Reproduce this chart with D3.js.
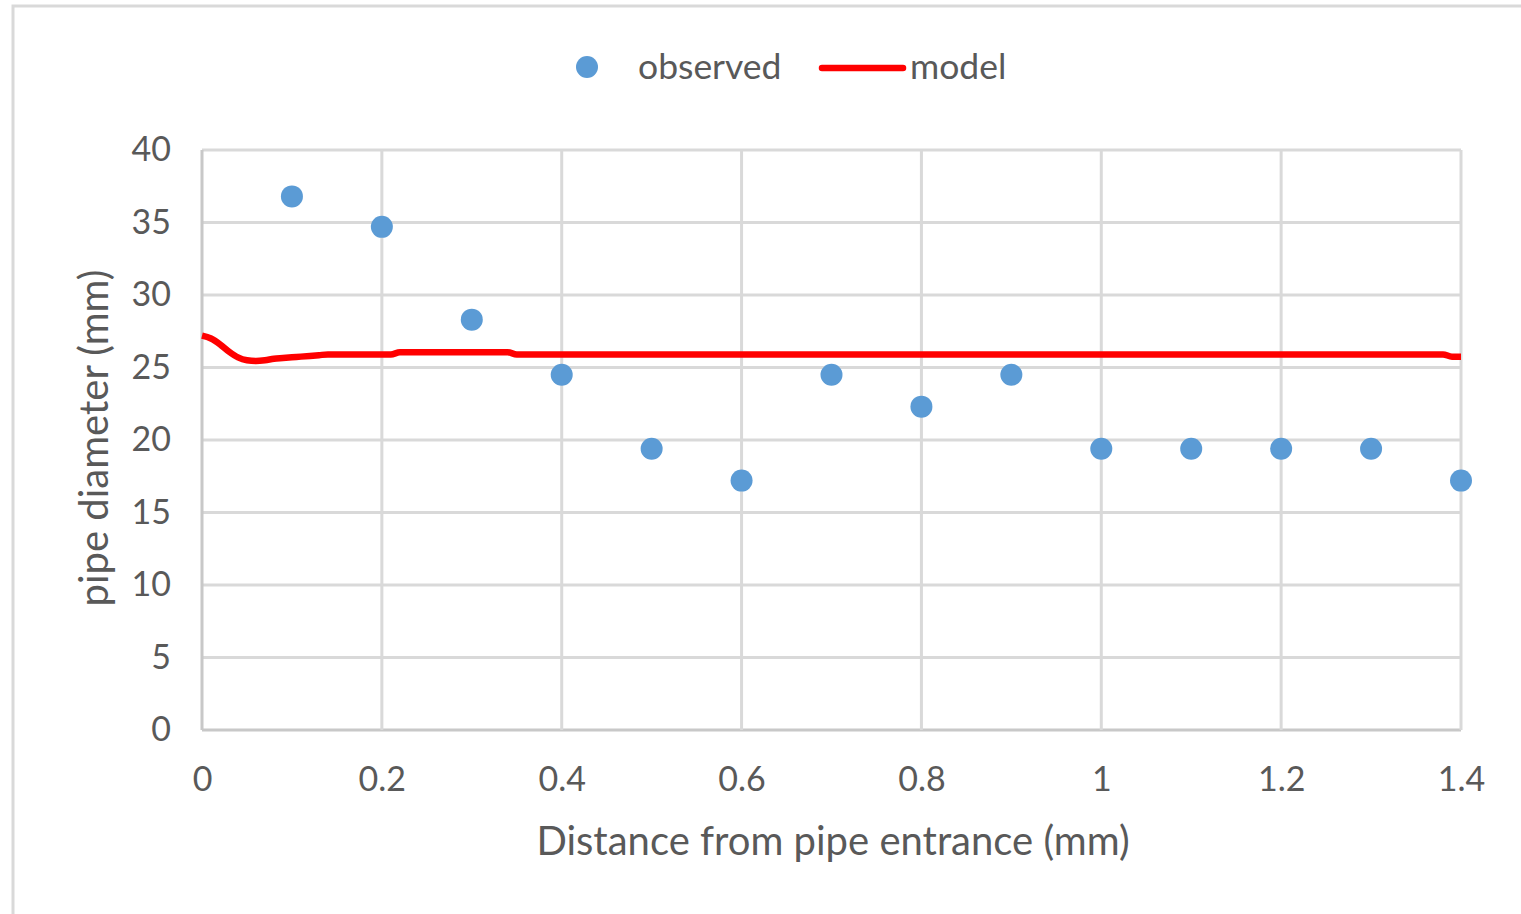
<!DOCTYPE html>
<html>
<head>
<meta charset="utf-8">
<script src="https://cdn.jsdelivr.net/npm/d3@7"></script>
<style>
  html, body { margin: 0; padding: 0; background: #fff; }
  svg { display: block; }
  text { font-family: Lato, "Open Sans", sans-serif; fill: #595959; }
</style>
</head>
<body>
<svg id="chart" width="1521" height="914"></svg>
<script>
// Observed pipe diameters at sampled distances
const observedX = [0.1, 0.2, 0.3, 0.4, 0.5, 0.6, 0.7, 0.8, 0.9, 1.0, 1.1, 1.2, 1.3, 1.4];
const observedY = [36.8, 34.7, 28.3, 24.5, 19.4, 17.2, 24.5, 22.3, 24.5, 19.4, 19.4, 19.4, 19.4, 17.2];

// Model curve
const modelX = [0, 0.01, 0.02, 0.03, 0.04, 0.05, 0.06, 0.07, 0.08, 0.09, 0.10, 0.11, 0.12, 0.13, 0.14, 0.21, 0.22, 0.34, 0.35, 1.38, 1.39, 1.40];
const modelY = [27.2, 27.0, 26.6, 26.1, 25.7, 25.5, 25.45, 25.5, 25.6, 25.65, 25.7, 25.75, 25.8, 25.85, 25.9, 25.9, 26.05, 26.05, 25.9, 25.9, 25.75, 25.75];

const xTicks = [0, 0.2, 0.4, 0.6, 0.8, 1, 1.2, 1.4];
const yTicks = [0, 5, 10, 15, 20, 25, 30, 35, 40];

const seriesNames = ["observed", "model"];
const xTitle = "Distance from pipe entrance (mm)";
const yTitle = "pipe diameter (mm)";

const svg = d3.select("#chart");

// chart frame
svg.append("rect")
  .attr("x", 13).attr("y", 6)
  .attr("width", 1600).attr("height", 1000)
  .attr("fill", "#fff")
  .attr("stroke", "#d9d9d9").attr("stroke-width", 3);

const plot = { left: 202, right: 1461, top: 150, bottom: 730 };

const x = d3.scaleLinear().domain([0, 1.4]).range([plot.left, plot.right]);
const y = d3.scaleLinear().domain([0, 40]).range([plot.bottom, plot.top]);

// gridlines
const grid = svg.append("g");
grid.selectAll("line.h").data(yTicks).join("line")
  .attr("x1", plot.left).attr("x2", plot.right)
  .attr("y1", d => y(d)).attr("y2", d => y(d))
  .attr("stroke", d => d === 0 ? "#c8c8c8" : "#d9d9d9").attr("stroke-width", 3);
grid.selectAll("line.v").data(xTicks).join("line")
  .attr("y1", plot.top).attr("y2", plot.bottom)
  .attr("x1", d => x(d)).attr("x2", d => x(d))
  .attr("stroke", d => d === 0 ? "#c8c8c8" : "#d9d9d9").attr("stroke-width", 3);

// tick labels via d3 axes (domain and tick marks hidden, grid drawn separately)
const xAxis = svg.append("g")
  .attr("transform", `translate(0,${plot.bottom})`)
  .call(d3.axisBottom(x).tickValues(xTicks).tickFormat(d3.format("~g")).tickSize(0).tickPadding(37));
xAxis.select(".domain").remove();
xAxis.selectAll("text").attr("font-size", 34).attr("font-family", "Lato, sans-serif").attr("fill", "#595959");

const yAxis = svg.append("g")
  .attr("transform", `translate(${plot.left},0)`)
  .call(d3.axisLeft(y).tickValues(yTicks).tickSize(0).tickPadding(31));
yAxis.select(".domain").remove();
yAxis.selectAll("text").attr("font-size", 34).attr("font-family", "Lato, sans-serif").attr("fill", "#595959");

// model line
const modelData = modelX.map((d, i) => [d, modelY[i]]);
svg.append("path")
  .datum(modelData)
  .attr("fill", "none")
  .attr("stroke", "#ff0000")
  .attr("stroke-width", 6.5)
  .attr("stroke-linejoin", "round")
  .attr("d", d3.line().x(d => x(d[0])).y(d => y(d[1])).curve(d3.curveMonotoneX));

// observed points
svg.append("g").selectAll("circle")
  .data(observedX.map((d, i) => [d, observedY[i]]))
  .join("circle")
  .attr("cx", d => x(d[0])).attr("cy", d => y(d[1]))
  .attr("r", 11)
  .attr("fill", "#5b9bd5");

// axis titles
svg.append("text")
  .attr("x", 833).attr("y", 855)
  .attr("text-anchor", "middle").attr("font-size", 40)
  .text(xTitle);
svg.append("text")
  .attr("transform", "translate(108,438) rotate(-90)")
  .attr("text-anchor", "middle").attr("font-size", 40)
  .text(yTitle);

// legend
const legend = svg.append("g");
legend.append("circle").attr("cx", 587).attr("cy", 67).attr("r", 11).attr("fill", "#5b9bd5");
legend.append("text").attr("x", 638).attr("y", 79).attr("font-size", 35.5).text(seriesNames[0]);
legend.append("line").attr("x1", 822).attr("x2", 903).attr("y1", 68).attr("y2", 68)
  .attr("stroke", "#ff0000").attr("stroke-width", 6.5).attr("stroke-linecap", "round");
legend.append("text").attr("x", 910).attr("y", 79).attr("font-size", 35.5).text(seriesNames[1]);
</script>
</body>
</html>
